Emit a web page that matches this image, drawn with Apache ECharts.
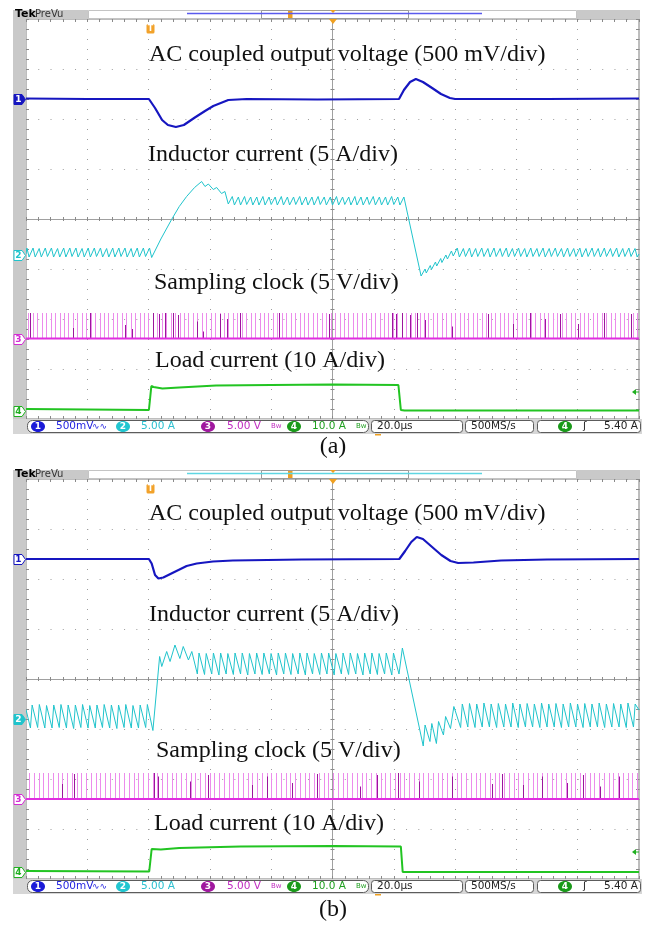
<!DOCTYPE html>
<html>
<head>
<meta charset="utf-8">
<script src="https://cdn.jsdelivr.net/npm/echarts@6.0.0/dist/echarts.min.js"></script>
<style>
  html, body { margin: 0; padding: 0; background: #fff; }
  #main { width: 650px; height: 929px; }
</style>
</head>
<body>
<div id="main"></div>
<script>
// time in microseconds across the screen (20 us/div), levels in screen divisions
var timeMin = 0, timeMax = 200, timeDiv = 20;
var levelMin = -4, levelMax = 4;

// channel 1 : AC coupled output voltage
var voltageA = [[0,2.41],[20,2.40],[40.1,2.40],[42.1,2.22],[44.4,1.98],[46.3,1.88],[48.9,1.84],[51.5,1.88],[55.1,2.03],[58.4,2.16],[61.1,2.26],[66.0,2.38],[72,2.40],[95,2.39],[121.7,2.40],[123.3,2.58],[125.3,2.74],[127.2,2.80],[129.5,2.74],[132.5,2.62],[135.4,2.50],[138.3,2.42],[140.0,2.40],[170,2.40],[200,2.41]];
var voltageB = [[0,2.40],[40.1,2.40],[41.0,2.31],[42.1,2.08],[43.2,2.01],[44.8,2.03],[48.1,2.13],[52.4,2.26],[55.7,2.31],[61.0,2.35],[67.5,2.37],[90,2.39],[121.8,2.40],[123.7,2.56],[125.7,2.74],[127.5,2.84],[129.5,2.80],[132.5,2.64],[135.5,2.48],[138.5,2.36],[141.0,2.32],[146.0,2.33],[155.0,2.37],[170,2.39],[200,2.40]];

// channel 2 : inductor current (ripple peaks and valleys)
var inductorA = [[0,-0.70],[0.3,-0.58],[1.0,-0.76],[2.3,-0.58],[3.0,-0.76],[4.3,-0.59],[5.0,-0.76],[6.3,-0.58],[7.0,-0.75],[8.3,-0.58],[9.0,-0.76],[10.3,-0.59],[11.0,-0.76],[12.3,-0.58],[13.0,-0.76],[14.3,-0.58],[15.0,-0.75],[16.3,-0.58],[17.0,-0.76],[18.3,-0.59],[19.0,-0.76],[20.3,-0.58],[21.0,-0.76],[22.3,-0.58],[23.0,-0.75],[24.3,-0.58],[25.0,-0.76],[26.3,-0.59],[27.0,-0.76],[28.3,-0.58],[29.0,-0.76],[30.3,-0.58],[31.0,-0.75],[32.3,-0.58],[33.0,-0.76],[34.3,-0.59],[35.0,-0.76],[36.3,-0.58],[37.0,-0.76],[38.3,-0.58],[39.0,-0.75],[40.3,-0.58],[41.0,-0.77],
  [44.0,-0.40],[47.5,-0.01],[50.0,0.25],[52.4,0.45],[55.0,0.63],[57.3,0.75],[58.4,0.65],[59.5,0.70],[61.1,0.59],[62.2,0.63],[63.8,0.51],[64.9,0.55],[66.0,0.30],
  [67.3,0.45],[68.0,0.28],[69.3,0.44],[70.0,0.28],[71.3,0.45],[72.0,0.29],[73.3,0.44],[74.0,0.28],[75.3,0.44],[76.0,0.28],[77.3,0.45],[78.0,0.28],[79.3,0.44],[80.0,0.29],[81.3,0.44],[82.0,0.28],[83.3,0.45],[84.0,0.28],[85.3,0.44],[86.0,0.28],[87.3,0.44],[88.0,0.29],[89.3,0.45],[90.0,0.28],[91.3,0.44],[92.0,0.28],[93.3,0.44],[94.0,0.28],[95.3,0.45],[96.0,0.29],[97.3,0.44],[98.0,0.28],[99.3,0.44],[100.0,0.28],[101.3,0.45],[102.0,0.28],[103.3,0.44],[104.0,0.29],[105.3,0.44],[106.0,0.28],[107.3,0.45],[108.0,0.28],[109.3,0.44],[110.0,0.28],[111.3,0.44],[112.0,0.29],[113.3,0.45],[114.0,0.28],[115.3,0.44],[116.0,0.28],[117.3,0.44],[118.0,0.28],[119.3,0.45],[120.0,0.29],[121.3,0.44],[122.0,0.28],[123.3,0.44],
  [128.9,-1.14],[130.2,-1.00],[130.6,-1.08],[131.9,-0.93],[132.3,-1.01],[133.6,-0.86],[134.0,-0.94],[135.3,-0.79],[135.7,-0.87],[137.0,-0.72],[137.5,-0.80],[138.8,-0.64],[139.4,-0.74],[140.7,-0.58],[141.4,-0.76],
  [142.7,-0.59],[143.4,-0.75],[144.7,-0.58],[145.4,-0.76],[146.7,-0.59],[147.4,-0.75],[148.7,-0.58],[149.4,-0.75],[150.7,-0.59],[151.4,-0.76],[152.7,-0.58],[153.4,-0.75],[154.7,-0.59],[155.4,-0.75],[156.7,-0.58],[157.4,-0.76],[158.7,-0.59],[159.4,-0.75],[160.7,-0.58],[161.4,-0.75],[162.7,-0.59],[163.4,-0.76],[164.7,-0.58],[165.4,-0.75],[166.7,-0.59],[167.4,-0.75],[168.7,-0.58],[169.4,-0.76],[170.7,-0.59],[171.4,-0.75],[172.7,-0.58],[173.4,-0.75],[174.7,-0.59],[175.4,-0.76],[176.7,-0.58],[177.4,-0.75],[178.7,-0.59],[179.4,-0.75],[180.7,-0.58],[181.4,-0.76],[182.7,-0.59],[183.4,-0.75],[184.7,-0.58],[185.4,-0.75],[186.7,-0.59],[187.4,-0.76],[188.7,-0.58],[189.4,-0.75],[190.7,-0.59],[191.4,-0.75],[192.7,-0.58],[193.4,-0.76],[194.7,-0.59],[195.4,-0.75],[196.7,-0.58],[197.4,-0.75],[198.7,-0.59],[199.4,-0.76],[200,-0.70]];
var inductorB = [[0,-0.61],[1.45,-0.98],[2.0,-0.52],[3.8,-0.97],[4.35,-0.51],[6.15,-0.98],[6.7,-0.53],[8.5,-0.98],[9.05,-0.52],[10.85,-0.97],[11.4,-0.51],[13.2,-0.98],[13.75,-0.52],[15.55,-0.99],[16.1,-0.52],[17.9,-0.97],[18.45,-0.51],[20.25,-0.98],[20.8,-0.53],[22.6,-0.98],[23.15,-0.52],[24.95,-0.97],[25.5,-0.51],[27.3,-0.98],[27.85,-0.52],[29.65,-0.99],[30.2,-0.52],[32.0,-0.97],[32.55,-0.51],[34.35,-0.98],[34.9,-0.53],[36.7,-0.98],[37.25,-0.52],[39.05,-0.97],[39.6,-0.51],[41.4,-1.03],
  [43.6,0.45],[44.3,0.25],[45.9,0.55],[47.0,0.35],[48.6,0.68],[50.2,0.41],[51.3,0.65],[53.0,0.38],[54.1,0.55],[55.9,0.10],
  [56.45,0.52],[58.25,0.09],[58.8,0.51],[60.6,0.10],[61.15,0.52],[62.95,0.08],[63.5,0.52],[65.3,0.10],[65.85,0.51],[67.65,0.09],[68.2,0.52],[70.0,0.10],[70.55,0.52],[72.35,0.08],[72.9,0.51],[74.7,0.10],[75.25,0.52],[77.05,0.09],[77.6,0.52],[79.4,0.10],[79.95,0.51],[81.75,0.08],[82.3,0.52],[84.1,0.10],[84.65,0.52],[86.45,0.09],[87.0,0.51],[88.8,0.10],[89.35,0.52],[91.15,0.08],[91.7,0.52],[93.5,0.10],[94.05,0.51],[95.85,0.09],[96.4,0.52],[98.2,0.10],[98.75,0.52],[100.55,0.08],[101.1,0.51],[102.9,0.10],[103.45,0.52],[105.25,0.09],[105.8,0.52],[107.6,0.10],[108.15,0.51],[109.95,0.08],[110.5,0.52],[112.3,0.10],[112.85,0.52],[114.65,0.09],[115.2,0.51],[117.0,0.10],[117.55,0.52],[119.35,0.08],[119.9,0.52],[121.7,0.10],[122.8,0.62],
  [129.6,-1.34],[130.2,-0.92],[131.8,-1.25],[132.4,-0.89],[133.9,-1.29],[134.6,-0.85],[136.2,-1.12],[136.9,-0.75],[138.5,-0.99],[139.6,-0.55],[141.8,-0.97],
  [142.35,-0.50],[144.15,-0.96],[144.7,-0.49],[146.5,-0.97],[147.05,-0.50],[148.85,-0.96],[149.4,-0.48],[151.2,-0.96],[151.75,-0.50],[153.55,-0.97],[154.1,-0.49],[155.9,-0.96],[156.45,-0.50],[158.25,-0.96],[158.8,-0.48],[160.6,-0.97],[161.15,-0.50],[162.95,-0.96],[163.5,-0.49],[165.3,-0.96],[165.85,-0.50],[167.65,-0.97],[168.2,-0.48],[170.0,-0.96],[170.55,-0.50],[172.35,-0.96],[172.9,-0.49],[174.7,-0.97],[175.25,-0.50],[177.05,-0.96],[177.6,-0.48],[179.4,-0.96],[179.95,-0.50],[181.75,-0.97],[182.3,-0.49],[184.1,-0.96],[184.65,-0.50],[186.45,-0.96],[187.0,-0.48],[188.8,-0.97],[189.35,-0.50],[191.15,-0.96],[191.7,-0.49],[193.5,-0.96],[194.05,-0.50],[195.85,-0.97],[196.4,-0.48],[198.2,-0.96],[198.75,-0.50],[200,-0.62]];

// channel 3 : sampling clock
var clockLowA = -2.39, clockLowB = -2.40, clockHigh = -1.88;
var clockTimesA = [0.8,2.25,3.7,5.15,6.6,8.05,9.5,10.95,12.4,13.85,15.3,16.75,18.2,19.65,21.1,22.55,24.0,25.45,26.9,28.35,29.8,31.25,32.7,34.15,35.6,37.05,38.5,39.95,41.4,42.85,44.3,45.75,47.2,48.65,50.1,51.55,53.0,54.45,55.9,57.35,58.8,60.25,61.7,63.15,64.6,66.05,67.5,68.95,70.4,71.85,73.3,74.75,76.2,77.65,79.1,80.55,82.0,83.45,84.9,86.35,87.8,89.25,90.7,92.15,93.6,95.05,96.5,97.95,99.4,100.85,102.3,103.75,105.2,106.65,108.1,109.55,111.0,112.45,113.9,115.35,116.8,118.25,119.7,121.15,122.6,124.05,125.5,126.95,128.4,129.85,131.3,132.75,134.2,135.65,137.1,138.55,140.0,141.45,142.9,144.35,145.8,147.25,148.7,150.15,151.6,153.05,154.5,155.95,157.4,158.85,160.3,161.75,163.2,164.65,166.1,167.55,169.0,170.45,171.9,173.35,174.8,176.25,177.7,179.15,180.6,182.05,183.5,184.95,186.4,187.85,189.3,190.75,192.2,193.65,195.1,196.55,198.0,199.45];
var clockTimesB = [1.0,2.55,4.1,5.65,7.2,8.75,10.3,11.85,13.4,14.95,16.5,18.05,19.6,21.15,22.7,24.25,25.8,27.35,28.9,30.45,32.0,33.55,35.1,36.65,38.2,39.75,41.3,42.85,44.4,45.95,47.5,49.05,50.6,52.15,53.7,55.25,56.8,58.35,59.9,61.45,63.0,64.55,66.1,67.65,69.2,70.75,72.3,73.85,75.4,76.95,78.5,80.05,81.6,83.15,84.7,86.25,87.8,89.35,90.9,92.45,94.0,95.55,97.1,98.65,100.2,101.75,103.3,104.85,106.4,107.95,109.5,111.05,112.6,114.15,115.7,117.25,118.8,120.35,121.9,123.45,125.0,126.55,128.1,129.65,131.2,132.75,134.3,135.85,137.4,138.95,140.5,142.05,143.6,145.15,146.7,148.25,149.8,151.35,152.9,154.45,156.0,157.55,159.1,160.65,162.2,163.75,165.3,166.85,168.4,169.95,171.5,173.05,174.6,176.15,177.7,179.25,180.8,182.35,183.9,185.45,187.0,188.55,190.1,191.65,193.2,194.75,196.3,197.85,199.4];
// overlapping (darker) pulses: [time, top level]
var clockDarkA = [[1.4,-1.88],[15.2,-2.18],[20.9,-1.88],[32.3,-2.12],[34.5,-2.20],[41.4,-1.88],[43.4,-1.90],[45.4,-1.88],[48.0,-1.88],[49.6,-1.92],[55.7,-2.05],[57.6,-2.25],[63.3,-1.90],[65.5,-2.00],[69.8,-1.88],[82.6,-1.88],[98.9,-1.90],[119.3,-1.88],[120.7,-1.90],[122.6,-1.88],[125.3,-1.92],[127.5,-1.88],[130.2,-2.02],[138.9,-2.15],[150.8,-1.90],[158.8,-2.10],[164.4,-1.88],[169.3,-2.00],[174.2,-1.90],[180.2,-2.10],[188.6,-1.88],[197.4,-1.90]];
var clockDarkB = [[11.6,-2.10],[15.7,-1.90],[41.8,-1.88],[43.1,-1.95],[53.4,-2.05],[59.4,-1.92],[73.7,-2.12],[78.5,-1.95],[86.7,-2.08],[94.8,-1.90],[109.0,-2.15],[114.5,-1.92],[121.4,-1.88],[128.2,-2.05],[139.0,-1.95],[151.9,-2.10],[155.3,-1.90],[162.0,-2.12],[168.3,-1.95],[176.4,-2.08],[181.7,-1.92],[187.3,-2.15],[193.4,-1.95]];

// channel 4 : load current
var loadA = [[0,-3.80],[40.1,-3.82],[40.9,-3.34],[41.6,-3.36],[44.5,-3.39],[50,-3.37],[62,-3.33],[80,-3.32],[100,-3.31],[121.5,-3.32],[122.3,-3.82],[123.5,-3.83],[200,-3.83]];
var loadB = [[0,-3.84],[40.2,-3.85],[41.0,-3.40],[44.0,-3.41],[50,-3.38],[70,-3.35],[100,-3.34],[122.3,-3.35],[122.9,-3.86],[200,-3.86]];

// channel ground markers (level in div)
var groundA = [2.40, -0.72, -2.39, -3.84];
var groundB = [2.40, -0.80, -2.40, -3.86];

var labelsTop = ['AC coupled output voltage (500 mV/div)', 'Inductor current (5 A/div)', 'Sampling clock (5 V/div)', 'Load current (10 A/div)'];
var statusTexts = ['500mV', '5.00 A', '5.00 V', '10.0 A', '20.0\u00b5s', '500MS/s', '5.40 A'];
var captions = ['(a)', '(b)'];

var C1 = '#1616c0', C2 = '#20c4cc', C3 = '#e02ee0', C4 = '#22c422';
var GRID_L = 26, GRID_W = 613, GRID_H = 400, TOPS = [19, 479];

var chart = echarts.init(document.getElementById('main'));

function tickStyle(len) {
  return {inside: true, length: len, lineStyle: {color: '#8a8a8a', width: 1}};
}
function minor(len) {
  return {show: true, splitNumber: 5, length: len, lineStyle: {color: '#8a8a8a', width: 1}};
}

function xAxesFor(gi) {
  var base = {gridIndex: gi, type: 'value', min: timeMin, max: timeMax, interval: timeDiv,
    axisLabel: {show: false}, splitLine: {show: false},
    axisLine: {show: false, onZero: false}, axisTick: tickStyle(3), minorTick: minor(3)};
  return [
    Object.assign({}, base, {position: 'bottom',
      splitLine: {show: true, lineStyle: {color: '#9e9e9e', width: 1, type: [1, 9]}}}),
    Object.assign({}, base, {position: 'top'}),
    Object.assign({}, base, {position: 'bottom', offset: -GRID_H / 2,
      axisLine: {show: true, onZero: false, lineStyle: {color: '#a0a0a0'}}, axisTick: tickStyle(2), minorTick: minor(2)}),
    Object.assign({}, base, {position: 'top', offset: -GRID_H / 2, axisTick: tickStyle(2), minorTick: minor(2)})
  ];
}
function yAxesFor(gi) {
  var base = {gridIndex: gi, type: 'value', min: levelMin, max: levelMax, interval: 1,
    axisLabel: {show: false}, splitLine: {show: false},
    axisLine: {show: false, onZero: false}, axisTick: tickStyle(3), minorTick: minor(3)};
  return [
    Object.assign({}, base, {position: 'left',
      splitLine: {show: true, lineStyle: {color: '#9e9e9e', width: 1, type: [1, 11.26]}}}),
    Object.assign({}, base, {position: 'right'}),
    Object.assign({}, base, {position: 'left', offset: -GRID_W / 2,
      axisLine: {show: true, onZero: false, lineStyle: {color: '#a0a0a0'}}, axisTick: tickStyle(2), minorTick: minor(2)}),
    Object.assign({}, base, {position: 'right', offset: -GRID_W / 2, axisTick: tickStyle(2), minorTick: minor(2)})
  ];
}

function pulseSeries(gi, data, low, color) {
  return {
    type: 'custom', xAxisIndex: gi * 4, yAxisIndex: gi * 4, data: data,
    encode: {x: 0, y: 1}, clip: true, silent: true, z: 2,
    renderItem: function (params, api) {
      var p0 = api.coord([api.value(0), low]);
      var p1 = api.coord([api.value(0), api.value(1)]);
      var x = Math.round(p0[0]) + 0.5;
      return {type: 'line', shape: {x1: x, y1: p0[1], x2: x, y2: p1[1]},
        style: {stroke: color, lineWidth: 1}};
    }
  };
}
function trace(gi, data, color, width, z) {
  return {type: 'line', xAxisIndex: gi * 4, yAxisIndex: gi * 4, data: data,
    symbol: 'none', silent: true, z: z, lineStyle: {color: color, width: width}};
}

var series = [];
[[clockTimesA, clockDarkA, clockLowA, voltageA, inductorA, loadA],
 [clockTimesB, clockDarkB, clockLowB, voltageB, inductorB, loadB]].forEach(function (d, gi) {
  series.push(pulseSeries(gi, d[0].map(function (t) { return [t, clockHigh]; }), d[2], '#ec8cec'));
  series.push(pulseSeries(gi, d[1], d[2], '#9c169c'));
  series.push(trace(gi, [[timeMin, d[2]], [timeMax, d[2]]], C3, 2, 3));
  series.push(trace(gi, d[5], C4, 2, 4));
  series.push(trace(gi, d[4], C2, 1, 5));
  series.push(trace(gi, d[3], C1, 2.2, 6));
});

chart.setOption({
  animation: false,
  backgroundColor: '#ffffff',
  grid: TOPS.map(function (t) {
    return {left: GRID_L, top: t, width: GRID_W, height: GRID_H, show: true,
      backgroundColor: '#ffffff', borderColor: '#7c7c7c', borderWidth: 1};
  }),
  xAxis: xAxesFor(0).concat(xAxesFor(1)),
  yAxis: yAxesFor(0).concat(yAxesFor(1)),
  series: series
});

// scope frame decorations
var deco = [];
function rect(x, y, w, h, fill, stroke, r) {
  deco.push({type: 'rect', silent: true, z: 100,
    shape: {x: x, y: y, width: w, height: h, r: r || 0},
    style: {fill: fill || 'none', stroke: stroke || null, lineWidth: 1}});
}
function txt(x, y, s, font, color, align) {
  deco.push({type: 'text', silent: true, z: 101, x: x, y: y,
    style: {text: s, font: font, fill: color, textAlign: align || 'left', textVerticalAlign: 'middle'}});
}
function poly(points, fill, stroke) {
  deco.push({type: 'polygon', silent: true, z: 101, shape: {points: points},
    style: {fill: fill, stroke: stroke || null, lineWidth: 1}});
}
function ellipse(cx, cy, color, label) {
  deco.push({type: 'ellipse', silent: true, z: 101, shape: {cx: cx, cy: cy, rx: 7, ry: 5.5},
    style: {fill: color}});
  txt(cx, cy + 0.5, label, 'bold 9px "DejaVu Sans"', '#fff', 'center');
}

var markerColors = [C1, C2, '#d42cd4', '#20b020'];
[[groundA, 0, '#5a5aee'], [groundB, 1, '#5ed6e2']].forEach(function (g) {
  var gi = g[1], oy = TOPS[gi] - TOPS[0];
  var top = TOPS[gi], bottom = top + GRID_H;
  // side strip, header, status bar
  rect(13, oy + 10, 13, 424, '#c9c9c9');
  rect(13, oy + 10, 75, 9, '#c9c9c9');
  rect(88.5, oy + 10.5, 488, 8, '#ffffff', '#c4c4c4');
  rect(577, oy + 10, 63, 9, '#c9c9c9');
  txt(15, oy + 14.5, 'Tek', 'bold 11px "DejaVu Sans"', '#000');
  txt(35, oy + 14.5, 'PreVu', '10px "DejaVu Sans"', '#333');
  deco.push({type: 'line', silent: true, z: 101, shape: {x1: 187, y1: oy + 13.5, x2: 482, y2: oy + 13.5},
    style: {stroke: g[2], lineWidth: 1.5}});
  rect(261.5, oy + 10.5, 147, 8, 'none', '#9a9a9a');
  rect(288, oy + 11, 4.5, 7, '#f0a020');
  poly([[330, oy + 10], [336, oy + 10], [333, oy + 13]], '#f0a020');
  poly([[329, top], [337, top], [333, top + 5]], '#f0a020');
  // trigger position marker
  rect(146.5, top + 5, 8, 9.5, '#f2a22a', null, 1.5);
  txt(150.5, top + 10, 'T', 'bold 8px "DejaVu Sans"', '#fff', 'center');
  // trigger level arrow (channel 4)
  poly([[632, bottom - 27], [636, bottom - 30], [636, bottom - 24]], '#20b020');
  deco.push({type: 'line', silent: true, z: 101, shape: {x1: 635, y1: bottom - 27, x2: 639, y2: bottom - 27},
    style: {stroke: '#20b020', lineWidth: 1}});
  // channel ground markers
  g[0].forEach(function (lvl, ci) {
    var y = Math.round(chart.convertToPixel({gridIndex: gi}, [0, lvl])[1]) + 0.5;
    var filled = (gi === 0 && ci === 0) || (gi === 1 && ci === 1);
    var c = markerColors[ci];
    poly([[14, y - 5], [22, y - 5], [25.5, y], [22, y + 5], [14, y + 5]], filled ? c : '#ffffff', c);
    txt(18.5, y + 0.5, String(ci + 1), 'bold 9px "DejaVu Sans"', filled ? '#ffffff' : c, 'center');
  });
  // status bar
  var sy = bottom + 7.5;
  rect(13, bottom, 629, 15, '#d6d6d6');
  rect(27.5, bottom + 1.5, 341, 12, '#ffffff', '#5c5c5c', 5);
  rect(371.5, bottom + 1.5, 91, 12, '#ffffff', '#5c5c5c', 3);
  rect(465.5, bottom + 1.5, 68, 12, '#ffffff', '#5c5c5c', 3);
  rect(537.5, bottom + 1.5, 103, 12, '#ffffff', '#5c5c5c', 3);
  var sf = '10.5px "DejaVu Sans"';
  ellipse(38, sy, '#1a1ad8', '1');
  txt(56, sy, statusTexts[0], sf, '#2424e0');
  txt(92, sy, '\u223f\u223f', '9px "DejaVu Sans"', '#2424e0');
  ellipse(123, sy, '#22c6d0', '2');
  txt(141, sy, statusTexts[1], sf, '#2cc0d0');
  ellipse(208, sy, '#a0189f', '3');
  txt(227, sy, statusTexts[2], sf, '#c02cc0');
  txt(271, sy, 'Bw', '7px "DejaVu Sans"', '#c02cc0');
  ellipse(294, sy, '#1a9a1a', '4');
  txt(312, sy, statusTexts[3], sf, '#20a020');
  txt(356, sy, 'Bw', '7px "DejaVu Sans"', '#20a020');
  txt(377, sy, statusTexts[4], sf, '#222');
  txt(471, sy, statusTexts[5], sf, '#222');
  ellipse(565, sy, '#1a9a1a', '4');
  txt(583, sy, '\u0283', sf, '#222');
  txt(638, sy, statusTexts[6], sf, '#222', 'right');
  rect(375, bottom + 15, 6, 1.5, '#f0a020');
});

// overlay labels and captions
var serif = '24px "Liberation Serif", "Times New Roman", serif';
[[149, 55], [148, 155], [154, 283], [155, 361]].forEach(function (p, i) {
  txt(p[0], p[1], labelsTop[i], serif, '#111');
});
[[149, 514], [149, 615], [156, 751], [154, 824]].forEach(function (p, i) {
  txt(p[0], p[1], labelsTop[i], serif, '#111');
});
txt(333, 447, captions[0], serif, '#111', 'center');
txt(333, 910, captions[1], serif, '#111', 'center');

chart.setOption({graphic: {elements: deco}});
</script>
</body>
</html>
